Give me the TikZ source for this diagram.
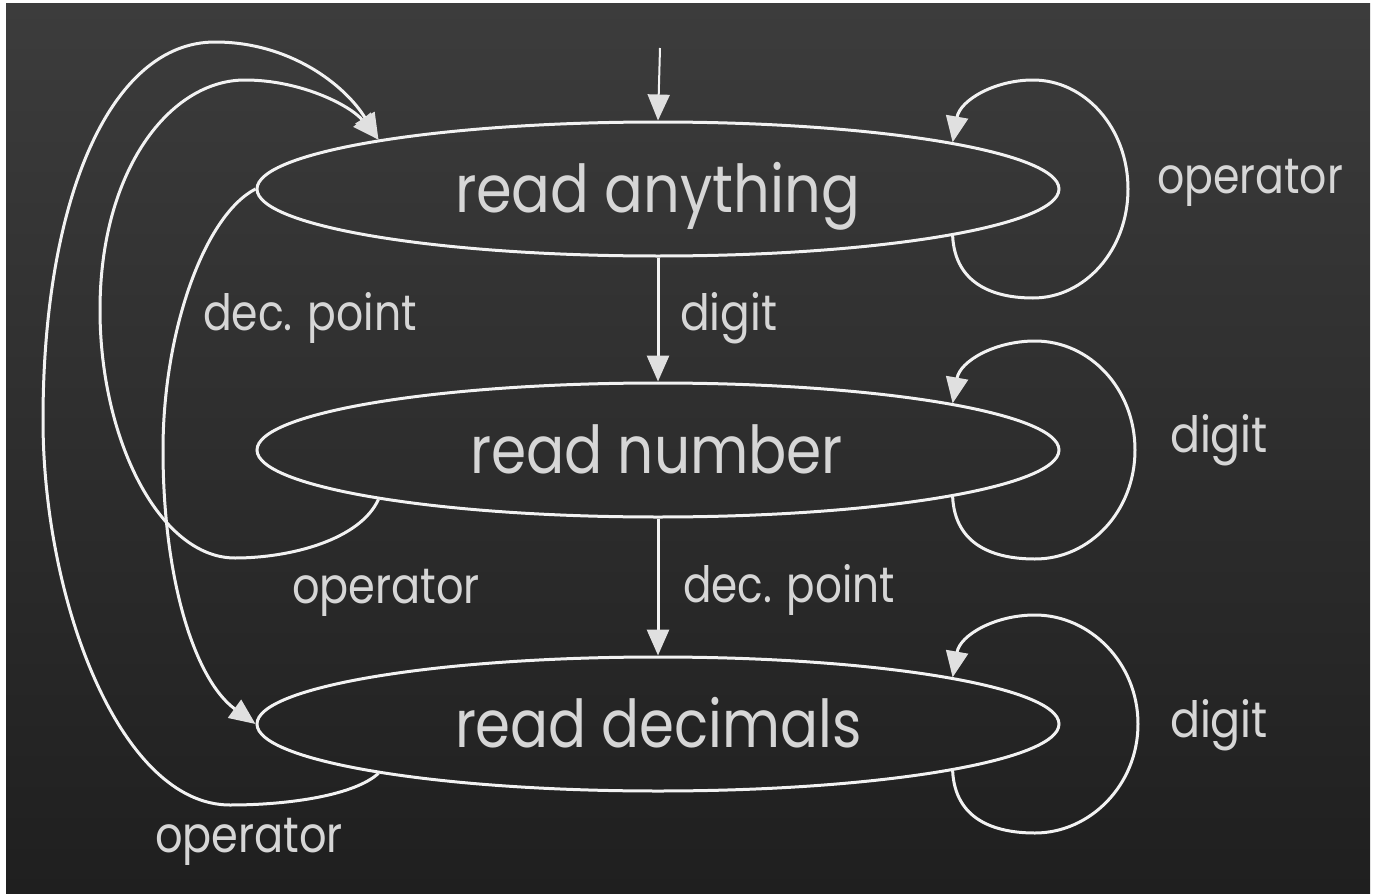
\documentclass[tikz,border=0pt]{standalone}
\usepackage{fontspec}
\setmainfont{Poppins}
\usetikzlibrary{shapes.geometric,arrows.meta}
\definecolor{bgtop}{HTML}{3C3C3C}
\definecolor{bgbot}{HTML}{1F1F1F}
\definecolor{linec}{HTML}{F2F2F2}
\definecolor{tipc}{HTML}{E0E0E0}
\definecolor{textc}{HTML}{D6D6D6}
\newsavebox\fitbox
\newlength\fitlen
\newcommand\fitx[2]{\sbox\fitbox{#2}\setlength\fitlen{\wd\fitbox}\pgfmathsetmacro\fitratio{#1/\fitlen}\scalebox{\fitratio}[1]{\usebox\fitbox}}
\tikzset{
  state/.style={ellipse, draw=linec, line width=1.5pt, minimum width=401pt, minimum height=67pt, inner sep=0pt},
  big/.style={text=textc, font=\fontsize{33}{33}\selectfont, inner sep=0pt, anchor=base},
  small/.style={text=textc, font=\fontsize{25}{25}\selectfont, inner sep=0pt, anchor=base},
  edge/.style={draw=linec, line width=1.5pt, -{Triangle[length=13pt,width=11pt,color=tipc]}},
}
\begin{document}
\begin{tikzpicture}[x=0.5pt,y=-0.5pt]
\useasboundingbox (0,0) rectangle (1377,894);
\fill[white] (0,0) rectangle (1377,894);
\shade[top color=bgtop,bottom color=bgbot] (6,3) rectangle (1370,894);
% states
\node[state] (e1) at (658,189) {};
\node[state] (e2) at (658,450) {};
\node[state] (e3) at (658,724) {};
\node[big] (t1) at (657.5,212) {\fitx{202.5pt}{read anything}};
\node[big] (t2) at (656.5,473) {\fitx{186.5pt}{read number}};
\node[big] (t3) at (658.5,747) {\fitx{203.5pt}{read decimals}};
% labels
\node[small] (l1) at (310,330) {\fitx{107pt}{dec. point}};
\node[small] (l2) at (728.5,330) {\fitx{48.5pt}{digit}};
\node[small] (l3) at (386,603) {\fitx{94pt}{operator}};
\node[small] (l4) at (789,602) {\fitx{106pt}{dec. point}};
\node[small] (l5) at (249,852) {\fitx{94pt}{operator}};
\node[small] (l6) at (1250,193) {\fitx{93pt}{operator}};
\node[small] (l7) at (1219,452) {\fitx{49pt}{digit}};
\node[small] (l8) at (1219,737) {\fitx{49pt}{digit}};
% initial arrow
\coordinate (s0) at (660,48);
\draw[edge, line width=1pt] (s0) -- (e1.north);
% straight transitions
\draw[edge] (e1.south) -- (e2.north);
\draw[edge] (e2.south) -- (e3.north);
% self loops
\draw[edge] (e1.351) .. controls (955,285) and (995,298) .. (1033,298)
  .. controls (1085,298) and (1128,250) .. (1128,189)
  .. controls (1128,128) and (1085,80) .. (1033,80)
  .. controls (995,80) and (960,100) .. (e1.9);
\draw[edge] (e2.351) .. controls (955,546) and (995,559) .. (1035,559)
  .. controls (1090,559) and (1135,511) .. (1135,450)
  .. controls (1135,389) and (1090,341) .. (1035,341)
  .. controls (995,341) and (960,361) .. (e2.9);
\draw[edge] (e3.351) .. controls (955,820) and (995,833) .. (1035,833)
  .. controls (1090,833) and (1138,785) .. (1138,724)
  .. controls (1138,663) and (1090,615) .. (1035,615)
  .. controls (995,615) and (960,635) .. (e3.9);
% left curves
\draw[edge] (e1.west) .. controls (205,215) and (163,330) .. (163,450)
  .. controls (163,580) and (195,680) .. (e3.west);
\draw[edge] (e2.190) .. controls (360,540) and (290,558) .. (235,558)
  .. controls (160,558) and (100,440) .. (100,310)
  .. controls (100,170) and (170,80) .. (245,80)
  .. controls (300,80) and (350,105) .. (e1.170);
\draw[edge] (e3.190) .. controls (355,795) and (290,805) .. (230,805)
  .. controls (120,805) and (43,600) .. (43,420)
  .. controls (43,200) and (110,42) .. (215,42)
  .. controls (290,42) and (345,85) .. (e1.170);
\end{tikzpicture}
\end{document}
